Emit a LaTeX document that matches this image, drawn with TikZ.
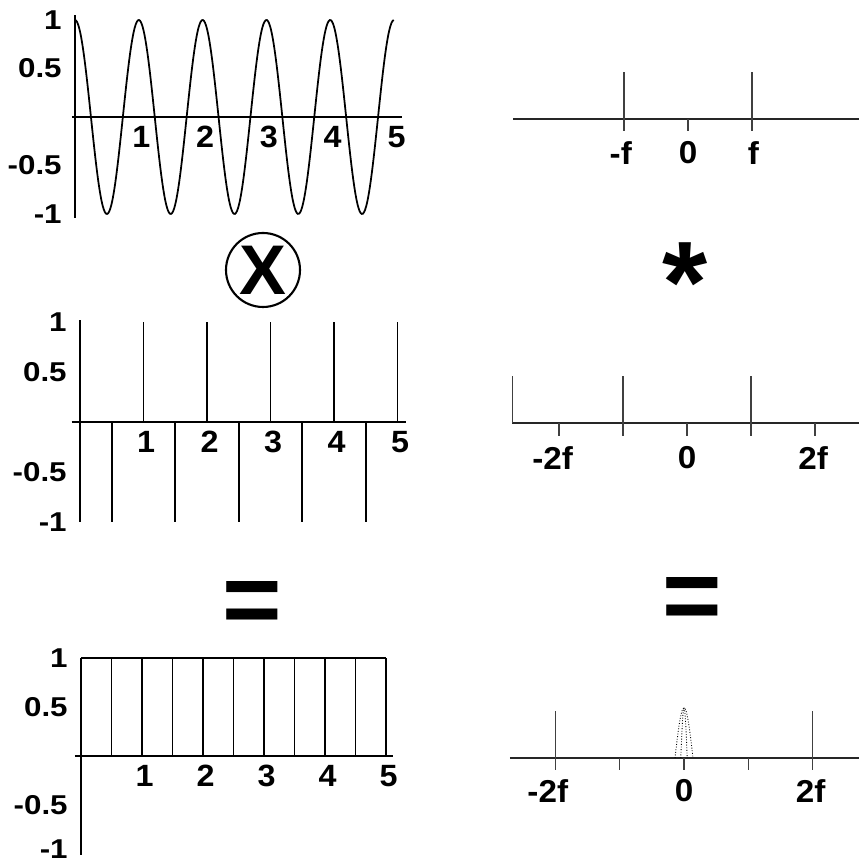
\documentclass[tikz,border=0pt]{standalone}
\usepackage{fontspec}
\setmainfont{Liberation Sans}
\usepackage{graphicx}
\usetikzlibrary{positioning}

% stretched tick labels
\newcommand{\tlabx}[1]{\scalebox{1.05}[1]{#1}}
\newcommand{\tlaby}[1]{\scalebox{1.15}[1]{#1}}
\newcommand{\flab}[1]{\scalebox{1.05}[1]{#1}}

\tikzset{
  axis/.style={line width=0.7pt},
  curve/.style={line width=1pt},
  spike/.style={line width=1pt},
  faxis/.style={line width=0.6pt, black!85},
  fspike/.style={line width=0.7pt, black!75},
  xlab/.style={font=\fontsize{17.5}{17.5}\selectfont\bfseries, inner sep=0pt, xshift=0.05cm, yshift=-0.4cm},
  ylab/.style={font=\fontsize{15.5}{15.5}\selectfont\bfseries, inner sep=0pt, anchor=east, xshift=-0.26cm},
  flabel/.style={font=\fontsize{18}{18}\selectfont\bfseries, inner sep=0pt},
  opsym/.style={font=\bfseries, inner sep=0pt}
}

\begin{document}
\begin{tikzpicture}
  \useasboundingbox (0,0) rectangle (17.18,17.26);

  % Signal: cosine
  \begin{scope}[shift={(1.5,14.92)}, x=1.276cm, y=1.94cm]
    \draw[axis] (-0.05,0) -- (5.13,0);
    \draw[axis] (0,-1.04) -- (0,1.05);
    \draw[curve] plot[domain=0:5, samples=300, smooth] (\x, {cos(360*\x)});
    \foreach \t in {1,...,5} \node[xlab] at (\t,0) {\tlabx{\t}};
    \foreach \v in {1,0.5,-0.5,-1} \node[ylab] at (0,\v) {\tlaby{\v}};
  \end{scope}

  % Sampling train
  \begin{scope}[shift={(1.6,8.82)}, x=1.27cm, y=2cm]
    \draw[axis] (-0.13,0) -- (5.13,0);
    \draw[axis] (0,-1) -- (0,1.02);
    \foreach \t in {1,...,5} \draw[spike] (\t,0) -- (\t,1);
    \foreach \t in {0.5,1.5,...,4.5} \draw[spike] (\t,0) -- (\t,-1);
    \foreach \t in {1,...,5} \node[xlab] at (\t,0) {\tlabx{\t}};
    \foreach \v in {1,0.5,-0.5,-1} \node[ylab] at (0,\v) {\tlaby{\v}};
  \end{scope}

  % Samples
  \begin{scope}[shift={(1.62,2.14)}, x=1.22cm, y=1.96cm]
    \draw[axis] (-0.1,0) -- (5.11,0);
    \draw[axis] (0,-1.01) -- (0,1);
    \draw[spike] (0,1) -- (5,1);
    \foreach \t in {0.5,1,...,5} \draw[spike] (\t,0) -- (\t,1);
    \foreach \t in {1,...,5} \node[xlab] at (\t,0) {\tlabx{\t}};
    \foreach \v in {1,0.5,-0.5} \node[ylab] at (0,\v) {\tlaby{\v}};
    \node[ylab] at (0,-0.95) {\tlaby{-1}};
  \end{scope}

  % Spectrum of cosine
  \begin{scope}[shift={(13.76,14.88)}, x=1.28cm]
    \draw[faxis] (-2.73,0) -- (2.67,0);
    \foreach \t in {-1,1} \draw[fspike] (\t,-0.24) -- (\t,0.94);
    \draw[fspike] (0,0) -- (0,-0.24);
    \node[flabel] at (-1.05,-0.68) {\flab{-f}};
    \node[flabel] at (0,-0.68) {\flab{0}};
    \node[flabel] at (1.02,-0.68) {\flab{f}};
  \end{scope}

  % Spectrum of sampling train
  \begin{scope}[shift={(13.74,8.80)}, x=1.28cm]
    \draw[faxis] (-2.73,0) -- (2.69,0);
    \draw[fspike] (-2.73,0) -- (-2.73,0.94);
    \foreach \t in {-1,1} \draw[fspike] (\t,-0.26) -- (\t,0.94);
    \foreach \t in {-2,0,2} \draw[fspike] (\t,0) -- (\t,-0.26);
    \node[flabel] at (-2.1,-0.7) {\flab{-2f}};
    \node[flabel] at (0,-0.7) {\flab{0}};
    \node[flabel] at (1.97,-0.7) {\flab{2f}};
  \end{scope}

  % Spectrum of samples
  \begin{scope}[shift={(13.68,2.10)}, x=1.285cm]
    \draw[faxis] (-2.71,0) -- (2.72,0);
    \foreach \t in {-2,2} \draw[fspike] (\t,-0.24) -- (\t,0.94);
    \foreach \t in {-1,0,1} \draw[fspike] (\t,0) -- (\t,-0.24);
    \draw[densely dotted, line width=0.5pt] plot[domain=-0.14:0.14, samples=40, smooth] (\x, {cos(90*\x/0.14)});
    \draw[densely dotted, line width=0.5pt] plot[domain=-0.05:0.05, samples=30, smooth] (\x, {cos(90*\x/0.05)});
    \node[flabel] at (-2.12,-0.66) {\flab{-2f}};
    \node[flabel] at (0,-0.66) {\flab{0}};
    \node[flabel] at (1.97,-0.66) {\flab{2f}};
  \end{scope}

  % Operators
  \node[opsym, draw, circle, line width=1.2pt, minimum size=1.48cm, font=\fontsize{40}{40}\selectfont\bfseries] (times) at (5.26,11.86) {X};
  \node[opsym, font=\fontsize{66}{66}\selectfont\bfseries, anchor=base] (conv) at (13.7,10.8) {*};
  \node[opsym, font=\fontsize{58}{58}\selectfont\bfseries, anchor=base] (eqleft) at (5.04,4.56) {=};
  \node[opsym, font=\fontsize{58}{58}\selectfont\bfseries, anchor=base] (eqright) at (13.84,4.64) {=};
\end{tikzpicture}
\end{document}
